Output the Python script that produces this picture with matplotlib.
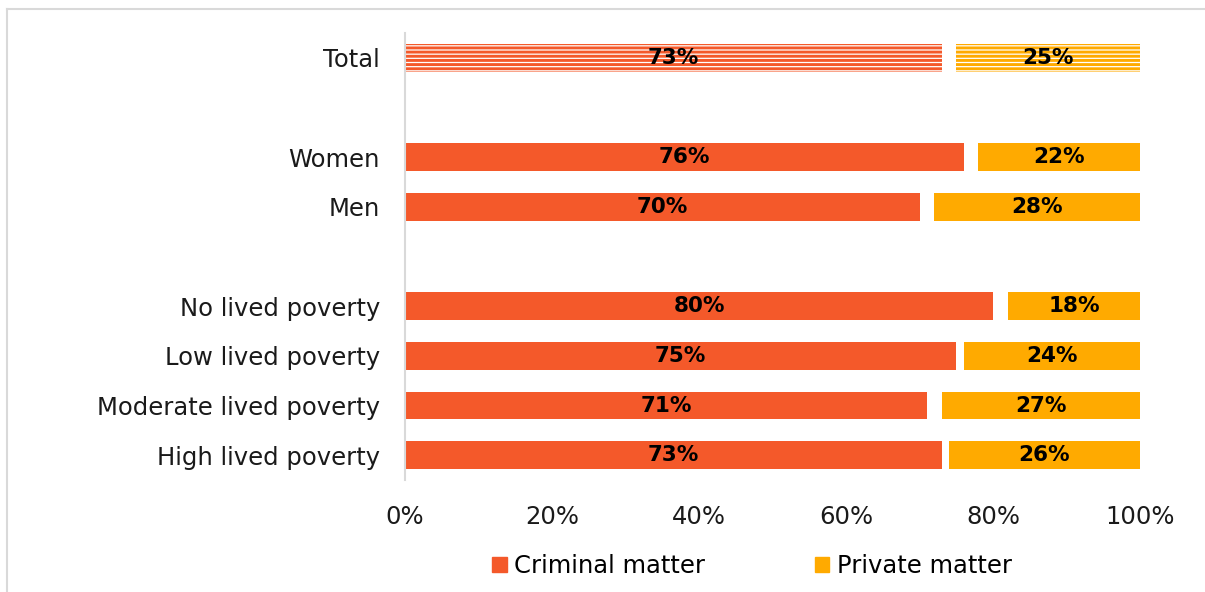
import numpy as np
import matplotlib.pyplot as plt
from matplotlib.lines import Line2D
from matplotlib.patches import Patch

categories = ["Total", "Women", "Men", "No lived poverty", "Low lived poverty",
              "Moderate lived poverty", "High lived poverty"]
slots = [0, 2, 3, 5, 6, 7, 8]
criminal = [73, 76, 70, 80, 75, 71, 73]
private = [25, 22, 28, 18, 24, 27, 26]

RED = "#F4592A"
GOLD = "#FFAA00"


def main():
    plt.rcParams["hatch.linewidth"] = 2.1
    fig = plt.figure(figsize=(12.05, 5.92), dpi=100)
    ax = fig.add_axes([405 / 1205, 1 - 480 / 592, 735 / 1205, 447 / 592])

    y = np.array(slots)
    for i, (c, p) in enumerate(zip(criminal, private)):
        if i == 0:
            ax.barh(y[i], c, height=0.56, color="white", edgecolor=RED,
                    hatch="----", linewidth=0)
            ax.barh(y[i], p, left=100 - p, height=0.56, color="white",
                    edgecolor=GOLD, hatch="----", linewidth=0)
        else:
            ax.barh(y[i], c, height=0.56, color=RED)
            ax.barh(y[i], p, left=100 - p, height=0.56, color=GOLD)
        ax.text(c / 2, y[i], f"{c}%", ha="center", va="center",
                fontsize=15.5, fontweight="bold", color="black")
        ax.text(100 - p / 2, y[i], f"{p}%", ha="center", va="center",
                fontsize=15.5, fontweight="bold", color="black")

    ax.set_xlim(0, 100)
    ax.set_ylim(8.5, -0.5)
    ax.set_yticks(slots)
    ax.set_yticklabels(categories, fontsize=17.5, color="#1a1a1a")
    ax.set_xticks(np.arange(0, 101, 20))
    ax.set_xticklabels([f"{v}%" for v in range(0, 101, 20)], fontsize=17.5,
                       color="#1a1a1a")
    ax.tick_params(length=0, pad=18, axis="y")
    ax.tick_params(length=0, pad=18, axis="x")
    for s in ["top", "right", "bottom"]:
        ax.spines[s].set_visible(False)
    ax.spines["left"].set_color("#d9d9d9")
    ax.spines["left"].set_linewidth(1.5)

    handles = [Patch(color=RED), Patch(color=GOLD)]
    fig.legend(handles, ["Criminal matter", "Private matter"], loc="center",
               bbox_to_anchor=(752 / 1205, 1 - 566 / 592), ncol=2, frameon=False,
               fontsize=17.5, handlelength=0.6, handleheight=0.6,
               handletextpad=0.3, columnspacing=4.5)

    # outer frame (top and left edges visible)
    fig.add_artist(Line2D([6.5 / 1205, 1], [1 - 8.5 / 592] * 2, color="#d9d9d9",
                          lw=1.5, transform=fig.transFigure))
    fig.add_artist(Line2D([6.5 / 1205] * 2, [0, 1 - 8.5 / 592], color="#d9d9d9",
                          lw=1.5, transform=fig.transFigure))

    fig.savefig("out.png", dpi=100)


if __name__ == "__main__":
    main()
